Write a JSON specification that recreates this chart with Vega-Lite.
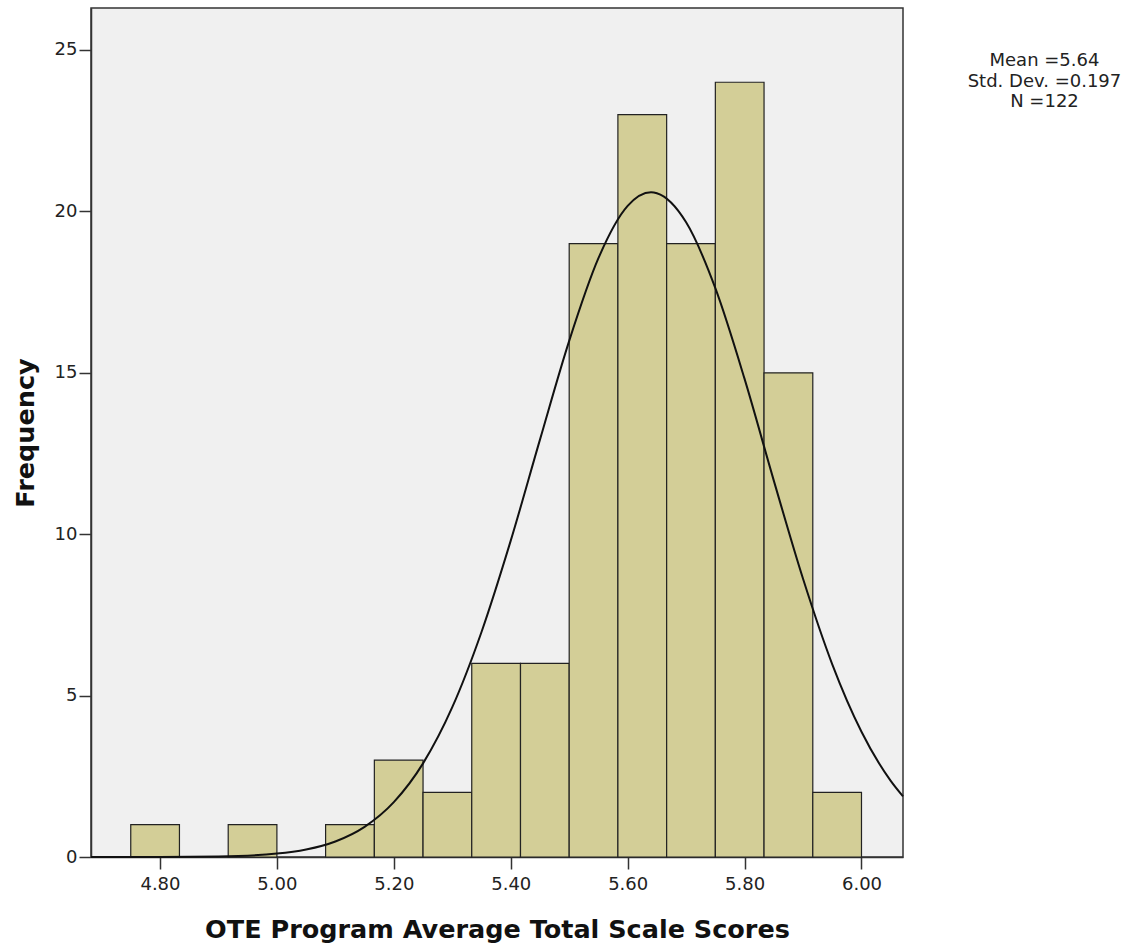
{
  "$schema": "https://vega.github.io/schema/vega-lite/v6.json",
  "autosize": "none",
  "padding": {"left": 91, "top": 8, "right": 229, "bottom": 95},
  "width": 812,
  "height": 849,
  "background": "white",
  "config": {
    "view": {"fill": "#F0F0F0", "stroke": "#333333", "strokeWidth": 1.5},
    "font": "DejaVu Sans",
    "axis": {
      "labelFont": "DejaVu Sans",
      "titleFont": "DejaVu Sans",
      "labelFontSize": 18,
      "labelColor": "#222222",
      "titleFontSize": 25.5,
      "titleFontWeight": "bold",
      "titleColor": "#111111",
      "domainColor": "#333333",
      "domainWidth": 1.5,
      "tickColor": "#333333",
      "tickWidth": 1.5,
      "tickSize": 12,
      "grid": false
    }
  },
  "datasets": {
    "bins": [
      {"start": 4.75, "end": 4.8333, "count": 1},
      {"start": 4.8333, "end": 4.9167, "count": 0},
      {"start": 4.9167, "end": 5.0, "count": 1},
      {"start": 5.0, "end": 5.0833, "count": 0},
      {"start": 5.0833, "end": 5.1667, "count": 1},
      {"start": 5.1667, "end": 5.25, "count": 3},
      {"start": 5.25, "end": 5.3333, "count": 2},
      {"start": 5.3333, "end": 5.4167, "count": 6},
      {"start": 5.4167, "end": 5.5, "count": 6},
      {"start": 5.5, "end": 5.5833, "count": 19},
      {"start": 5.5833, "end": 5.6667, "count": 23},
      {"start": 5.6667, "end": 5.75, "count": 19},
      {"start": 5.75, "end": 5.8333, "count": 24},
      {"start": 5.8333, "end": 5.9167, "count": 15},
      {"start": 5.9167, "end": 6.0, "count": 2}
    ],
    "curve": [
      {"x": 4.682, "y": 0.0001},
      {"x": 4.75, "y": 0.0008},
      {"x": 4.8, "y": 0.0023},
      {"x": 4.9, "y": 0.018},
      {"x": 5.0, "y": 0.105},
      {"x": 5.05, "y": 0.232},
      {"x": 5.1, "y": 0.481},
      {"x": 5.15, "y": 0.934},
      {"x": 5.2, "y": 1.699},
      {"x": 5.25, "y": 2.9},
      {"x": 5.3, "y": 4.64},
      {"x": 5.35, "y": 6.97},
      {"x": 5.4, "y": 9.8},
      {"x": 5.45, "y": 12.93},
      {"x": 5.5, "y": 15.99},
      {"x": 5.55, "y": 18.55},
      {"x": 5.6, "y": 20.17},
      {"x": 5.64, "y": 20.59},
      {"x": 5.65, "y": 20.56},
      {"x": 5.7, "y": 19.66},
      {"x": 5.75, "y": 17.62},
      {"x": 5.8, "y": 14.81},
      {"x": 5.85, "y": 11.66},
      {"x": 5.9, "y": 8.62},
      {"x": 5.95, "y": 5.97},
      {"x": 6.0, "y": 3.88},
      {"x": 6.05, "y": 2.36},
      {"x": 6.071, "y": 1.88}
    ],
    "stats": [
      {"x": 6.313, "y": 24.66, "label": "Mean =5.64"},
      {"x": 6.313, "y": 24.02, "label": "Std. Dev. =0.197"},
      {"x": 6.313, "y": 23.39, "label": "N =122"}
    ]
  },
  "layer": [
    {
      "data": {"name": "bins"},
      "transform": [{"filter": "datum.count > 0"}],
      "mark": {"type": "rect", "fill": "#D3CE97", "stroke": "#222222", "strokeWidth": 1.2},
      "encoding": {
        "x": {
          "field": "start", "type": "quantitative",
          "scale": {"domain": [4.682, 6.071], "nice": false, "zero": false},
          "axis": {"values": [4.8, 5.0, 5.2, 5.4, 5.6, 5.8, 6.0], "format": ".2f", "title": "OTE Program Average Total Scale Scores", "labelPadding": 6, "titlePadding": 24}
        },
        "x2": {"field": "end"},
        "y": {
          "field": "count", "type": "quantitative",
          "scale": {"domain": [0, 26.3], "nice": false},
          "axis": {"values": [0, 5, 10, 15, 20, 25], "title": "Frequency", "labelPadding": 2, "titlePadding": 16}
        },
        "y2": {"datum": 0}
      }
    },
    {
      "data": {"name": "curve"},
      "mark": {"type": "line", "color": "#111111", "strokeWidth": 2, "interpolate": "monotone"},
      "encoding": {
        "x": {"field": "x", "type": "quantitative"},
        "y": {"field": "y", "type": "quantitative"}
      }
    },
    {
      "data": {"name": "stats"},
      "mark": {"type": "text", "font": "DejaVu Sans", "fontSize": 18, "color": "#222222", "align": "center", "baseline": "middle", "clip": false},
      "encoding": {
        "x": {"field": "x", "type": "quantitative"},
        "y": {"field": "y", "type": "quantitative"},
        "text": {"field": "label"}
      }
    }
  ]
}
